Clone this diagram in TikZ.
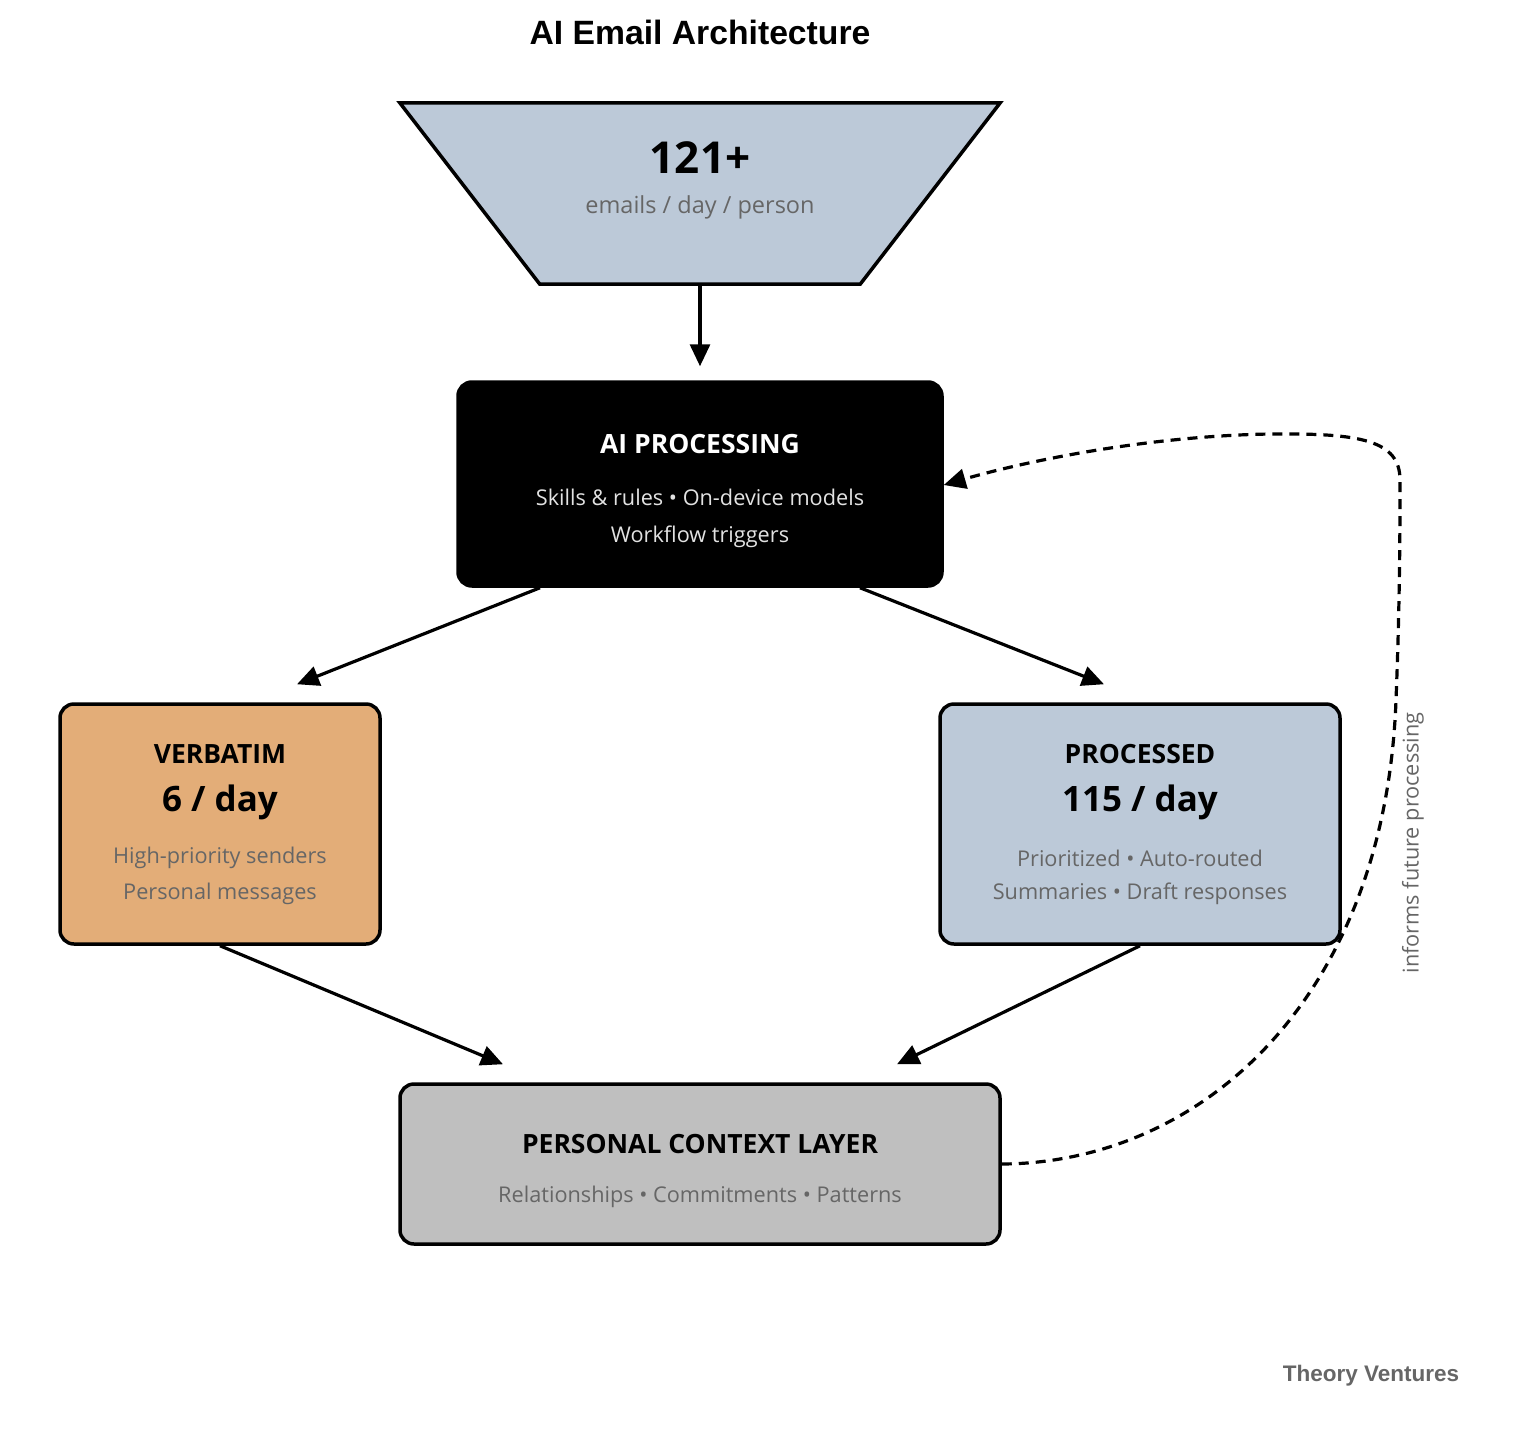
\documentclass[tikz,border=0pt]{standalone}
\usepackage{fontspec}
\setmainfont{Open Sans}
\newfontfamily\titlefont{Liberation Sans}
\usetikzlibrary{arrows.meta,calc}
\definecolor{slate}{HTML}{BCC9D8}
\definecolor{tan}{HTML}{E3AD78}
\definecolor{lgray}{HTML}{BFBFBF}
\definecolor{subgray}{HTML}{666666}
\definecolor{lightsub}{HTML}{E2E2E2}
\newcommand{\fs}[1]{\fontsize{#1}{#1}\selectfont}
\begin{document}
\begin{tikzpicture}[x=1pt,y=-1pt,
  box/.style={draw=black, line width=3.5pt, rounded corners=14pt, inner sep=0pt},
  arr/.style={line width=3.2pt, -{Triangle[length=22pt,width=20pt]}},
  dsh/.style={line width=3.2pt, dash pattern=on 10pt off 7pt, -{Triangle[length=22pt,width=20pt]}},
  ttl/.style={font=\fs{26.5}\bfseries, inner sep=0pt},
  big/.style={font=\fs{35}\bfseries, inner sep=0pt},
  sub/.style={font=\fs{21.7}, text=subgray, inner sep=0pt},
]
\useasboundingbox (0,0) rectangle (1524,1438);
\fill[white] (0,0) rectangle (1524,1438);

% title
\node[font=\titlefont\fs{33.7}\bfseries, inner sep=0pt] (title) at (700,32) {AI Email Architecture};

% source trapezoid
\node[minimum width=600pt, minimum height=181pt, inner sep=0pt] (src) at (700,193.5) {};
\draw[fill=slate, line width=3.5pt, line join=miter]
  (src.north west) -- (src.north east) -- ([xshift=-140pt]src.south east)
  -- ([xshift=140pt]src.south west) -- cycle;
\node[font=\fs{44}\bfseries, inner sep=0pt] (n121) at (700,158) {121+};
\node[sub, font=\fs{23.5}] (srcsub) at (700,207) {emails / day / person};

% AI processing
\node[box, fill=black, minimum width=484pt, minimum height=204pt] (ai) at (700,484) {};
\node[ttl, text=white] (aittl) at (700,444) {AI PROCESSING};
\node[sub, text=lightsub] (ai1) at (700,497) {Skills \& rules • On-device models};
\node[sub, text=lightsub] (ai2) at (700,537) {Workflow triggers};

% verbatim
\node[box, fill=tan, minimum width=320pt, minimum height=240pt] (verb) at (220,824) {};
\node[ttl] (verbttl) at (220,754) {VERBATIM};
\node[big] (verbnum) at (220,802) {6 / day};
\node[sub] (verb1) at (220,858) {High-priority senders};
\node[sub] (verb2) at (220,894) {Personal messages};

% processed
\node[box, fill=slate, minimum width=400pt, minimum height=240pt] (proc) at (1140,824) {};
\node[ttl] (procttl) at (1140,754) {PROCESSED};
\node[big] (procnum) at (1140,802) {115 / day};
\node[sub] (proc1) at (1140,858) {Prioritized • Auto-routed};
\node[sub] (proc2) at (1140,894) {Summaries • Draft responses};

% personal context
\node[box, fill=lgray, minimum width=600pt, minimum height=160pt] (ctx) at (700,1164) {};
\node[ttl] (ctxttl) at (700,1144) {PERSONAL CONTEXT LAYER};
\node[sub] (ctx1) at (700,1197) {Relationships • Commitments • Patterns};

% arrows
\draw[arr] (src.south) -- ([yshift=14pt]ai.north);
\draw[arr] ([xshift=-160pt]ai.south) -- ([xshift=77pt,yshift=18pt]verb.north);
\draw[arr] ([xshift=160pt]ai.south) -- ([xshift=-36pt,yshift=18pt]proc.north);
\draw[arr] (verb.south) -- ([xshift=-197pt,yshift=18pt]ctx.north);
\draw[arr] (proc.south) -- ([xshift=197pt,yshift=18pt]ctx.north);

% feedback loop
\draw[dsh] (ctx.east) .. controls (1200,1163) and (1385,1000) .. (1396,700)
  .. controls (1400,600) and (1400,520) .. (1400,480)
  .. controls (1400,440) and (1360,433) .. (1270,434)
  .. controls (1150,436) and (1030,460) .. ([yshift=-1pt]ai.east);
\node[sub, rotate=90] (fb) at (1413,843) {informs future processing};

% footer
\node[font=\titlefont\fs{22.5}\bfseries, text=subgray, inner sep=0pt] (foot) at (1371,1376) {Theory Ventures};
\end{tikzpicture}
\end{document}
